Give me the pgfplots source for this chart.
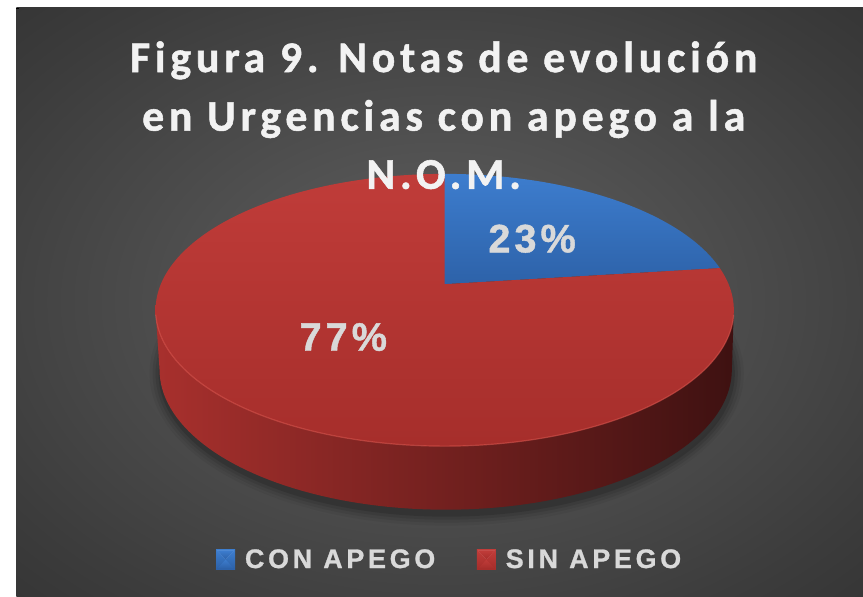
\documentclass[border=0pt]{standalone}
\usepackage{pgfplots}
\pgfplotsset{compat=1.18}
\usepackage{pgfplotstable}
\usepackage{fontspec}
\setmainfont{Liberation Sans}
\newfontfamily\titlefont[LetterSpace=11, BoldFeatures={FakeBold=1.2}]{Carlito}
\newfontfamily\labfont[LetterSpace=10, BoldFeatures={FakeBold=1}]{Liberation Sans}
\newfontfamily\legfont[LetterSpace=14, BoldFeatures={FakeBold=1}]{Liberation Sans}

\definecolor{bgin}{HTML}{5A5A5A}
\definecolor{bgmid}{HTML}{3C3C3C}
\definecolor{bgout}{HTML}{262626}
\definecolor{redtop}{HTML}{C03C39}
\definecolor{redbot}{HTML}{A62E2B}
\definecolor{bluetop}{HTML}{3D7DCE}
\definecolor{bluebot}{HTML}{2D62A9}
\definecolor{sideL}{HTML}{A8302D}
\definecolor{sideM}{HTML}{651B19}
\definecolor{sideR}{HTML}{3E1111}
\definecolor{edgehi}{HTML}{D9534C}
\definecolor{txt}{HTML}{D9D9D9}
\definecolor{ttl}{HTML}{F2F2F2}
\pgfdeclareradialshading{bgshade}{\pgfpoint{0bp}{0bp}}{color(0bp)=(bgin); color(6bp)=(bgin); color(30bp)=(bgmid); color(50bp)=(bgout)}

\pgfplotstableread{
label value
CON 23
SIN 77
}\piedata

\newcommand\ttlfont{\titlefont\fontsize{44}{50}\selectfont\bfseries}

\begin{document}
\pgfplotstablegetelem{0}{value}\of\piedata \let\va\pgfplotsretval
\pgfplotstablegetelem{1}{value}\of\piedata \let\vb\pgfplotsretval
\pgfmathsetmacro\bstart{90-360/(\va+\vb)*\va}
\pgfmathsetmacro\rstart{\bstart-360/(\va+\vb)*\vb}
\begin{tikzpicture}
\begin{axis}[
  x=1pt, y=1pt,
  xmin=0, xmax=863, ymin=0, ymax=600,
  hide axis, clip=false,
  legend style={at={(axis cs:447,37)}, anchor=center, draw=none, fill=none,
    legend columns=2, font=\legfont\fontsize{27}{30}\selectfont\bfseries, text=txt,
    /tikz/every even column/.append style={column sep=40pt},
    legend cell align=left, inner sep=0pt},
]
\coordinate (BL) at (axis cs:0,0);
\coordinate (TR) at (axis cs:863,600);
% background
\fill[white] (axis cs:0,0) rectangle (axis cs:863,600);
\shade[shading=bgshade] (axis cs:11,0) rectangle (axis cs:863,592);
\fill[black] (axis cs:11,591) rectangle (axis cs:14,592);
% shadow
\fill[black,opacity=0.05] (axis cs:444,224) ellipse[x radius=299pt, y radius=153pt];
\fill[black,opacity=0.07] (axis cs:444,224) ellipse[x radius=296pt, y radius=150pt];
\fill[black,opacity=0.09] (axis cs:444,224) ellipse[x radius=293pt, y radius=147pt];
\fill[black,opacity=0.12] (axis cs:444,224) ellipse[x radius=290pt, y radius=144pt];
% side (front extrusion)
\addplot[draw=none, left color=sideL, middle color=sideM, right color=sideR, domain=180:540, samples=181, variable=\t, forget plot]
  ({ifthenelse(\t<=360, 442+291*cos(\t), 443+288*cos(720-\t))},
   {ifthenelse(\t<=360, 288+137*sin(\t), 228+141*sin(720-\t))}) -- cycle;
% blue sector CON APEGO
\addplot[draw=none, top color=bluetop, bottom color=bluebot, domain=\bstart:90, samples=80, variable=\t,
  legend image code/.code={
    \path (0pt,0pt) -- (27pt,0pt);
    \fill[bluebot!75!black] (0pt,-10pt) rectangle (19pt,10pt);
    \fill[bluetop] (1pt,-9pt) rectangle (18pt,9pt);
    \fill[bluetop!65!white] (1pt,9pt) -- (9.5pt,0pt) -- (18pt,9pt) -- cycle;
    \fill[bluebot] (1pt,-9pt) -- (9.5pt,0pt) -- (18pt,-9pt) -- cycle;}]
  ({442+291*0.9818*cos(\t)/(1+0.19*sin(\t))},{288+137*(sin(\t)+0.19)/(1+0.19*sin(\t))}) -- (axis cs:442,314) -- cycle;
\addlegendentry{CON APEGO}
% red sector SIN APEGO
\addplot[draw=none, top color=redtop, bottom color=redbot, domain=\rstart:\bstart, samples=200, variable=\t,
  legend image code/.code={
    \path (0pt,0pt) -- (27pt,0pt);
    \fill[redbot!75!black] (0pt,-10pt) rectangle (19pt,10pt);
    \fill[redtop] (1pt,-9pt) rectangle (18pt,9pt);
    \fill[redtop!65!white] (1pt,9pt) -- (9.5pt,0pt) -- (18pt,9pt) -- cycle;
    \fill[redbot] (1pt,-9pt) -- (9.5pt,0pt) -- (18pt,-9pt) -- cycle;}]
  ({442+291*0.9818*cos(\t)/(1+0.19*sin(\t))},{288+137*(sin(\t)+0.19)/(1+0.19*sin(\t))}) -- (axis cs:442,314) -- cycle;
\addlegendentry{SIN APEGO}
% edge highlight
\addplot[edgehi, line width=1.2pt, opacity=0.6, domain=182:358, samples=120, variable=\t, forget plot]
  ({442+291*cos(\t)},{288+137*sin(\t)});
% labels
\node[anchor=base, text=txt, font=\labfont\fontsize{40}{42}\selectfont\bfseries] at (axis cs:530,346) {23\%};
\node[anchor=base, text=txt, font=\labfont\fontsize{40}{42}\selectfont\bfseries] at (axis cs:340,247) {77\%};
% title
\node[anchor=base, text=ttl, font=\ttlfont] at (axis cs:441,527.5) {Figura 9. Notas de evolución};
\node[anchor=base, text=ttl, font=\ttlfont] at (axis cs:441,468.5) {en Urgencias con apego a la};
\node[anchor=base, text=ttl, font=\ttlfont] at (axis cs:441,410) {N.O.M.};
\end{axis}
\pgfresetboundingbox
\useasboundingbox (BL) rectangle (TR);
\end{tikzpicture}
\end{document}
